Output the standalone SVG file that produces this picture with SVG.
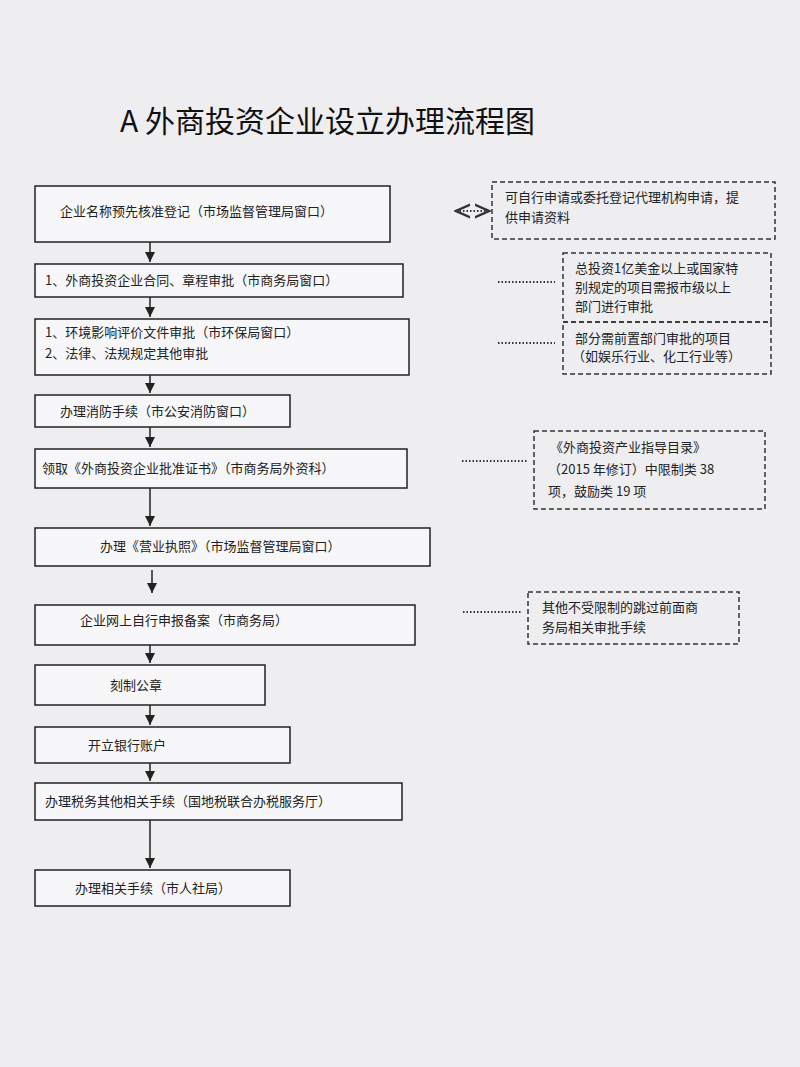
<svg xmlns="http://www.w3.org/2000/svg" width="800" height="1067" viewBox="0 0 800 1067">
<defs>
<style>
.b{fill:#f7f7f9;stroke:#222;stroke-width:1.5}
.n{fill:none;stroke:#333;stroke-width:1.5;stroke-dasharray:5 3}
.t{font-family:"Noto Sans CJK SC","Liberation Sans",sans-serif;font-size:13px;fill:#222}
.c{stroke:#222;stroke-width:1.5;fill:none}
.d{stroke:#333;stroke-width:2;stroke-dasharray:1.5 2;fill:none}
</style>
<marker id="a" viewBox="0 0 10 10" refX="10" refY="5" markerWidth="7" markerHeight="7" orient="auto"><path d="M0,0L10,5L0,10z" fill="#222"/></marker>
<marker id="o" viewBox="0 0 10 10" refX="9" refY="5" markerWidth="8" markerHeight="8" orient="auto-start-reverse"><path d="M0,1L9,5L0,9" fill="none" stroke="#333" stroke-width="1.5"/></marker>
</defs>
<rect width="800" height="1067" fill="#eeeef1"/>
<text x="120" y="132" font-family="Noto Sans CJK SC,sans-serif" font-size="30" fill="#111">A  外商投资企业设立办理流程图</text>
<g id="connectors">
<path class="c" marker-end="url(#a)" d="M150,242V262"/>
<path class="c" marker-end="url(#a)" d="M150,297V317"/>
<path class="c" marker-end="url(#a)" d="M150,375V393"/>
<path class="c" marker-end="url(#a)" d="M150,427V447"/>
<path class="c" marker-end="url(#a)" d="M150,488V526"/>
<path class="c" marker-end="url(#a)" d="M152,570V593"/>
<path class="c" marker-end="url(#a)" d="M150,645V663"/>
<path class="c" marker-end="url(#a)" d="M150,705V725"/>
<path class="c" marker-end="url(#a)" d="M150,763V781"/>
<path class="c" marker-end="url(#a)" d="M150,820V868"/>
<path class="d" marker-start="url(#o)" marker-end="url(#o)" d="M456,211H489"/>
<path class="d" d="M498,282H555"/>
<path class="d" d="M498,343H555"/>
<path class="d" d="M462,461H527"/>
<path class="d" d="M463,612H522"/>
</g>
<g id="n1"><rect class="b" x="35" y="186" width="355" height="56"/><text class="t" x="60" y="216">企业名称预先核准登记（市场监督管理局窗口）</text></g>
<g id="n2"><rect class="b" x="35" y="264" width="368" height="33"/><text class="t" x="45" y="285">1、外商投资企业合同、章程审批（市商务局窗口）</text></g>
<g id="n3"><rect class="b" x="35" y="319" width="374" height="56"/><text class="t" x="45" y="337">1、环境影响评价文件审批（市环保局窗口）</text><text class="t" x="45" y="358">2、法律、法规规定其他审批</text></g>
<g id="n4"><rect class="b" x="35" y="395" width="255" height="32"/><text class="t" x="60" y="416">办理消防手续（市公安消防窗口）</text></g>
<g id="n5"><rect class="b" x="35" y="449" width="372" height="39"/><text class="t" x="42" y="473">领取《外商投资企业批准证书》（市商务局外资科）</text></g>
<g id="n6"><rect class="b" x="35" y="528" width="395" height="38"/><text class="t" x="100" y="551">办理《营业执照》（市场监督管理局窗口）</text></g>
<g id="n7"><rect class="b" x="35" y="605" width="380" height="40"/><text class="t" x="80" y="625">企业网上自行申报备案（市商务局）</text></g>
<g id="n8"><rect class="b" x="35" y="665" width="230" height="40"/><text class="t" x="110" y="690">刻制公章</text></g>
<g id="n9"><rect class="b" x="35" y="727" width="255" height="36"/><text class="t" x="88" y="750">开立银行账户</text></g>
<g id="n10"><rect class="b" x="35" y="783" width="367" height="37"/><text class="t" x="45" y="806">办理税务其他相关手续（国地税联合办税服务厅）</text></g>
<g id="n11"><rect class="b" x="35" y="870" width="255" height="36"/><text class="t" x="75" y="893">办理相关手续（市人社局）</text></g>
<g id="note1"><rect class="n" x="492" y="182" width="283" height="57"/><text class="t" x="505" y="202">可自行申请或委托登记代理机构申请，提</text><text class="t" x="505" y="222">供申请资料</text></g>
<g id="note2"><rect class="n" x="563" y="253" width="208" height="69"/><text class="t" x="575" y="273">总投资1亿美金以上或国家特</text><text class="t" x="575" y="292">别规定的项目需报市级以上</text><text class="t" x="575" y="311">部门进行审批</text></g>
<g id="note3"><rect class="n" x="563" y="322" width="208" height="52"/><text class="t" x="575" y="343">部分需前置部门审批的项目</text><text class="t" x="572" y="361">（如娱乐行业、化工行业等）</text></g>
<g id="note4"><rect class="n" x="534" y="431" width="231" height="78"/><text class="t" font-size="14" x="550" y="452">《外商投资产业指导目录》</text><text class="t" font-size="14" x="548" y="474">（2015 年修订）中限制类 38</text><text class="t" font-size="14" x="548" y="496">项，鼓励类 19 项</text></g>
<g id="note5"><rect class="n" x="528" y="592" width="211" height="52"/><text class="t" x="542" y="612">其他不受限制的跳过前面商</text><text class="t" x="542" y="632">务局相关审批手续</text></g>
</svg>
